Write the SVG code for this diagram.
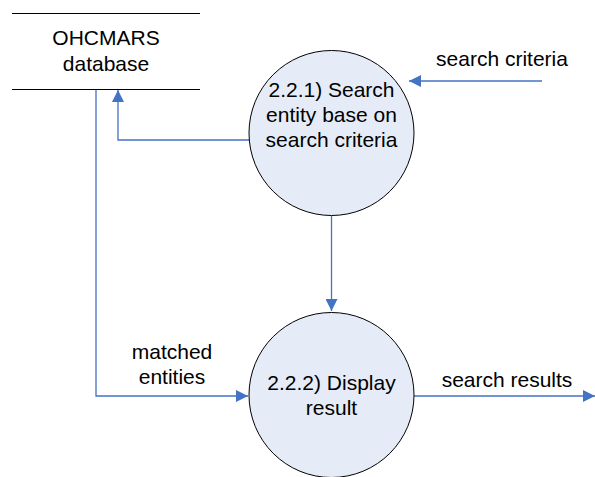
<svg xmlns="http://www.w3.org/2000/svg" width="595" height="477" viewBox="0 0 595 477">
<defs>
<marker id="arr" markerWidth="12" markerHeight="12" refX="12" refY="6" orient="auto" markerUnits="userSpaceOnUse">
<path d="M0,0 L12,6 L0,12 Z" fill="#4472C4"/>
</marker>
<style>
text{font-family:"Liberation Sans",Arial,sans-serif;font-size:21px;fill:#000;text-anchor:middle}
.c{fill:none;stroke:#4472C4;stroke-width:1.3}
.p{fill:#E6ECF7;stroke:#000;stroke-width:1}
.s{stroke:#000;stroke-width:1.2}
</style>
</defs>
<g id="connectors">
<path class="c" d="M542,81 L409,81" marker-end="url(#arr)"/>
<path class="c" d="M250,140 L118,140 L118,90" marker-end="url(#arr)"/>
<path class="c" d="M96,89 L96,396 L248,396" marker-end="url(#arr)"/>
<path class="c" d="M331.5,216 L331.5,311" marker-end="url(#arr)"/>
<path class="c" d="M414,396 L595,396" marker-end="url(#arr)"/>
<text x="502" y="66">search criteria</text>
<text x="172" y="359">matched</text>
<text x="172" y="384">entities</text>
<text x="507" y="387">search results</text>
</g>
<g id="database">
<line class="s" x1="12" y1="13.5" x2="200" y2="13.5"/>
<line class="s" x1="12" y1="89.5" x2="200" y2="89.5"/>
<text x="106" y="45">OHCMARS</text>
<text x="106" y="71">database</text>
</g>
<g id="process221">
<circle class="p" cx="331.5" cy="133" r="82.5"/>
<text x="331.5" y="97">2.2.1) Search</text>
<text x="331.5" y="122">entity base on</text>
<text x="331.5" y="147">search criteria</text>
</g>
<g id="process222">
<circle class="p" cx="331.5" cy="395" r="82.5"/>
<text x="331.5" y="390">2.2.2) Display</text>
<text x="331.5" y="415">result</text>
</g>
</svg>
